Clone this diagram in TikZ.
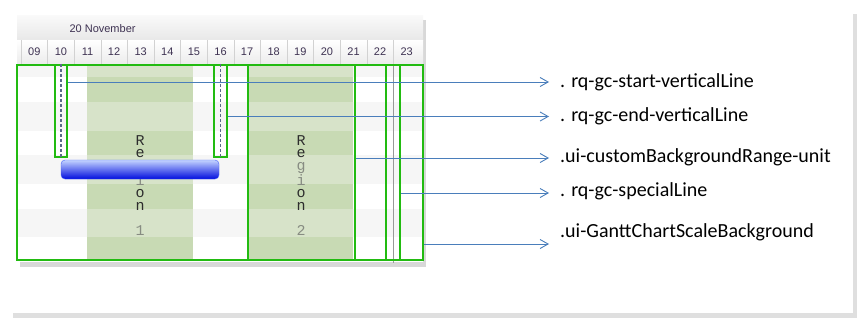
\documentclass[tikz,border=0pt]{standalone}
\usepackage{fontspec}
\setmainfont{Carlito}
\newfontfamily\hdrfont{Liberation Sans}
\newfontfamily\monofont{Liberation Mono}
\usetikzlibrary{arrows.meta,positioning,fit,shadows}
\definecolor{hlgreen}{RGB}{34,187,17}
\definecolor{arrowblue}{RGB}{74,126,187}
\definecolor{bandgray}{RGB}{246,246,246}
\definecolor{regdark}{RGB}{200,218,180}
\definecolor{reglight}{RGB}{215,227,201}
\definecolor{hourtext}{RGB}{62,50,82}
\definecolor{chardark}{RGB}{45,45,45}
\definecolor{charlight}{RGB}{135,140,130}
\definecolor{dashgray}{RGB}{90,106,138}
\definecolor{bartop}{RGB}{196,212,255}
\definecolor{barmid}{RGB}{70,100,250}
\definecolor{barbot}{RGB}{0,12,222}

\begin{document}
\begin{tikzpicture}[x=1pt,y=-1pt,
  hlbox/.style={draw=hlgreen,line width=2.4pt,inner sep=0pt},
  pointer/.style={arrowblue,line width=0.9pt,-{Straight Barb[length=8pt,width=9pt]}},
  lbl/.style={font=\fontsize{20}{22}\selectfont,inner sep=0pt,anchor=base west},
  hour/.style={font=\hdrfont\fontsize{11}{12}\selectfont,text=hourtext},
  regtext/.style={font=\monofont\fontsize{15}{12.6}\selectfont,inner sep=0pt,
    anchor=north,align=center,text=chardark}]
  \useasboundingbox (0,0) rectangle (867,327);
  % sheet and chart panel
  \fill[white,drop shadow={shadow xshift=4pt,shadow yshift=-5pt,opacity=.25}] (9,9) rectangle (853,313);
  \fill[white,drop shadow={shadow xshift=3pt,shadow yshift=-5pt,opacity=.3}] (17,15) rectangle (423,262);
  % header
  \shade[top color=gray!4,bottom color=gray!18] (17,15) rectangle (423,40);
  \shade[top color=white,bottom color=gray!15] (17,40) rectangle (423,64);
  \foreach \h [count=\i from 0] in {09,10,11,12,13,14,15,16,17,18,19,20,21,22,23} {
    \draw[gray!35] ({21+26.6*\i},40) -- ({21+26.6*\i},64);
    \node[hour] at ({21+26.6*(\i+0.5)},52) {\h};
  }
  \node[hour,anchor=west] (month) at (66,29) {20 November};
  % row bands and regions
  \foreach \ya/\yb/\band in {65/77/1,77/102/0,102/131/1,131/155/0,155/184/1,184/209/0,209/237/1,237/260/0} {
    \ifnum\band=1
      \fill[bandgray] (17,\ya) rectangle (423,\yb);
      \fill[reglight] (87,\ya) rectangle (193,\yb);
      \fill[reglight] (248,\ya) rectangle (353,\yb);
    \else
      \fill[regdark] (87,\ya) rectangle (193,\yb);
      \fill[regdark] (248,\ya) rectangle (353,\yb);
    \fi
  }
  \foreach \xx/\num in {140/1,301/2}
    \node[regtext] (region\num) at (\xx,135)
      {R\\e\\{\color{charlight}g}\\{\color{charlight}i}\\o\\n\\[12.6pt]{\color{charlight}\num}};
  \draw[gray!80,line width=1pt] (393,64) -- (393,263);
  % highlighted parts
  \node[hlbox,fit={(17,65) (423,260)}] (scalebg) {};
  \node[hlbox,fit={(55,65) (67,157)}] (startbox) {};
  \node[hlbox,fit={(214,65) (227,157)}] (endbox) {};
  \node[hlbox,fit={(248,65) (355,260)}] (rangebox) {};
  \node[hlbox,line width=2pt,fit={(386,65) (400,260)}] (specialbox) {};
  \draw[dashgray,line width=1.2pt,dash pattern=on 3pt off 2pt] (startbox.north) -- (startbox.south);
  \draw[dashgray,line width=1.2pt,dash pattern=on 3pt off 2pt] (endbox.north) -- (endbox.south);
  \node[fit={(61,160) (219,179)},inner sep=0pt,rounded corners=4pt,draw=barmid,
    top color=bartop,middle color=barmid,bottom color=barbot] (bar) {};
  % callouts
  \coordinate (tip1) at (549,82);
  \coordinate (tip2) at (549,116.5);
  \coordinate (tip3) at (549,158);
  \coordinate (tip4) at (549,193);
  \coordinate (tip5) at (549,244);
  \node[lbl] (lbstart) at ([shift={(11,5)}]tip1) {. rq-gc-start-verticalLine};
  \node[lbl] (lbend) at ([shift={(11,5)}]tip2) {. rq-gc-end-verticalLine};
  \node[lbl] (lbrange) at ([shift={(11,4)}]tip3) {.ui-customBackgroundRange-unit};
  \node[lbl] (lbspecial) at ([shift={(11,3)}]tip4) {. rq-gc-specialLine};
  \node[lbl] (lbscale) at ([shift={(11,-7)}]tip5) {.ui-GanttChartScaleBackground};
  \draw[pointer] (startbox.east |- tip1) -- (tip1);
  \draw[pointer] (endbox.east |- tip2) -- (tip2);
  \draw[pointer] (rangebox.east |- tip3) -- (tip3);
  \draw[pointer] (specialbox.east |- tip4) -- (tip4);
  \draw[pointer] (scalebg.east |- tip5) -- (tip5);
\end{tikzpicture}
\end{document}
